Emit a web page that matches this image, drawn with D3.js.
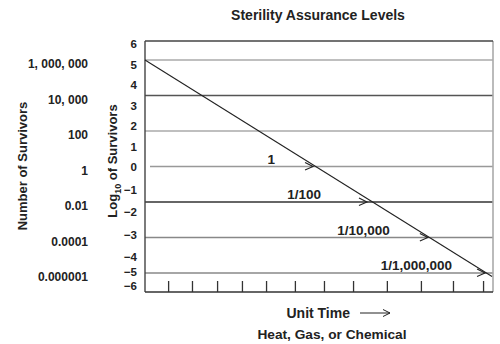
<!DOCTYPE html>
<html>
<head>
<meta charset="utf-8">
<script src="https://cdn.jsdelivr.net/npm/d3@7"></script>
<style>
  html, body { margin: 0; padding: 0; background: #fff; }
  svg text { font-family: "Liberation Sans", Arial, Helvetica, sans-serif; font-weight: bold; fill: #222; }
</style>
</head>
<body>
<svg id="chart" width="500" height="344"></svg>
<script>
// ---- data ----
const title = "Sterility Assurance Levels";
const gridExponents = [6, 4, 2, 0, -2, -4, -6];
const survivorLabels = ["1, 000, 000", "10, 000", "100", "1", "0.01", "0.0001", "0.000001"];
const gridColors = ["#aaa", "#555", "#aaa", "#999", "#333", "#888", "#888"];
const logTicks = [6, 5, 4, 3, 2, 1, 0, -1, -2, -3, -4, -5, -6];
// death curve (time units, log10 survivors)
const curveTime = [0, 13.96];
const curveLog = [6, -6.2];
// SAL arrows: log level, time where arrow meets curve, label
const salLevels = [0, -2, -4, -6];
const salTimes = [6.76, 8.93, 11.38, 13.68];
const salLabels = ["1", "1/100", "1/10,000", "1/1,000,000"];
// bottom time ticks
const timeTicks = [0.93, 1.89, 2.90, 3.90, 4.87, 6.03, 7.20, 8.37, 9.73, 11.10, 12.39, 13.60];

// ---- layout ----
const svg = d3.select("#chart");
const pLeft = 145, pRight = 493, pTop = 41, pBottom = 292;

const x = d3.scaleLinear().domain([0, 14]).range([pLeft, pRight]);
const y = d3.scaleLinear().domain([6, -6]).range([60, 273]);
const yLog = d3.scaleLinear().domain([6, 0, -4, -5, -6]).range([44, 167, 257, 272, 286]);

// title
svg.append("text").attr("x", 318).attr("y", 20).attr("text-anchor", "middle")
  .style("font-size", "14px").text(title);

// grid / SAL lines
svg.selectAll("line.grid").data(gridExponents).join("line")
  .attr("class", "grid")
  .attr("x1", (d) => d === 0 ? pLeft + 5 : pLeft)
  .attr("x2", pRight)
  .attr("y1", (d) => y(d)).attr("y2", (d) => y(d))
  .attr("stroke", (d, i) => gridColors[i])
  .attr("stroke-width", 1.6);

// frame
svg.append("line").attr("x1", pRight).attr("x2", pRight).attr("y1", pTop).attr("y2", pBottom)
  .attr("stroke", "#aaa").attr("stroke-width", 1.6);
svg.append("line").attr("x1", pLeft).attr("x2", pRight).attr("y1", pTop).attr("y2", pTop)
  .attr("stroke", "#444").attr("stroke-width", 1.4);
svg.append("line").attr("x1", pLeft).attr("x2", pLeft).attr("y1", pTop).attr("y2", pBottom)
  .attr("stroke", "#444").attr("stroke-width", 1.4);

// bottom axis ticks
const xAxis = d3.axisBottom(x).tickValues(timeTicks).tickSize(-11).tickSizeOuter(0).tickFormat("");
const gx = svg.append("g").attr("transform", `translate(0,${pBottom})`).call(xAxis);
gx.select(".domain").attr("stroke", "#333").attr("stroke-width", 1.4)
  .attr("d", `M${pLeft},0H${pRight}`);
gx.selectAll(".tick line").attr("stroke", "#333").attr("stroke-width", 1.3);

// death curve
const curve = curveTime.map((t, i) => [t, curveLog[i]]);
svg.append("path").datum(curve)
  .attr("d", d3.line().x((d) => x(d[0])).y((d) => y(d[1])))
  .attr("fill", "none").attr("stroke", "#222").attr("stroke-width", 1.1);

// arrowheads and labels
salLevels.forEach((lv, i) => {
  const xe = x(salTimes[i]), ye = y(lv);
  svg.append("path")
    .attr("d", `M${xe - 8},${ye - 4}L${xe},${ye}L${xe - 8},${ye + 3.5}`)
    .attr("fill", "none").attr("stroke", "#222").attr("stroke-width", 1.1);
  svg.append("text").attr("x", xe - 38 + (i === 3 ? 5 : 0) - (i === 1 ? 8 : 0))
    .attr("y", ye - 3).attr("text-anchor", "end")
    .style("font-size", "13.5px").text(salLabels[i]);
});

// survivors labels
svg.selectAll("text.num").data(gridExponents).join("text")
  .attr("class", "num")
  .attr("x", 88).attr("y", (d) => y(d) + 4).attr("dy", "0.35em")
  .attr("text-anchor", "end").style("font-size", "12px")
  .text((d, i) => survivorLabels[i]);

// log labels
svg.selectAll("text.log").data(logTicks).join("text")
  .attr("class", "log")
  .attr("x", 137).attr("y", (d) => yLog(d)).attr("dy", "0.35em")
  .attr("text-anchor", "end").style("font-size", "11.5px")
  .text((d) => d < 0 ? "\u2212" + Math.abs(d) : String(d));

// axis titles
svg.append("text").attr("transform", "translate(27,166) rotate(-90)")
  .attr("text-anchor", "middle").style("font-size", "13px").text("Number of Survivors");
const lt = svg.append("text").attr("transform", "translate(117,161) rotate(-90)")
  .attr("text-anchor", "middle").style("font-size", "13px");
lt.append("tspan").text("Log");
lt.append("tspan").attr("dy", 4).style("font-size", "9px").text("10");
lt.append("tspan").attr("dy", -4).text(" of Survivors");

// x titles
svg.append("text").attr("x", 350).attr("y", 318).attr("text-anchor", "end")
  .style("font-size", "14px").text("Unit Time");
svg.append("line").attr("x1", 360).attr("x2", 390).attr("y1", 313).attr("y2", 313)
  .attr("stroke", "#222").attr("stroke-width", 1);
svg.append("path").attr("d", "M383,309.5L390,313L383,316.5")
  .attr("fill", "none").attr("stroke", "#222").attr("stroke-width", 1);
svg.append("text").attr("x", 332).attr("y", 339).attr("text-anchor", "middle")
  .style("font-size", "13.7px").text("Heat, Gas, or Chemical");
</script>
</body>
</html>
